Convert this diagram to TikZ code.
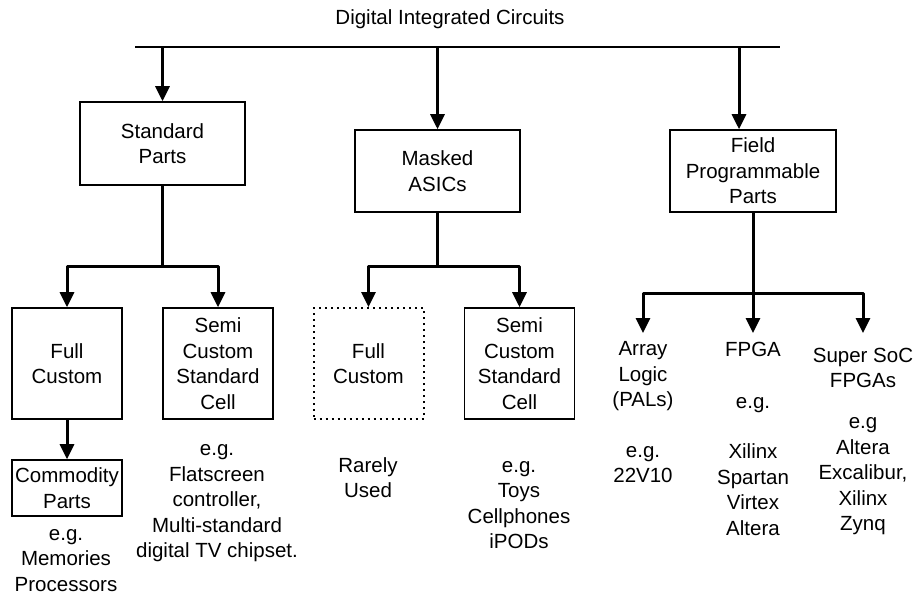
\documentclass[tikz,border=0pt]{standalone}
\usepackage{fontspec}
\setmainfont{Liberation Sans}
\usetikzlibrary{positioning, arrows.meta}

\begin{document}
\begin{tikzpicture}[
        x=1pt, y=-1pt,
        every node/.style={font=\fontsize{20.5}{25.5}\selectfont},
        box/.style={draw, line width=1.6pt, align=center, inner sep=2pt},
        cell/.style={box, minimum width=110pt, minimum height=111pt},
        leaf/.style={align=center, inner sep=2pt},
        conn/.style={line width=3pt, line join=round},
        arr/.style={conn, -{Triangle[width=14pt,length=15pt]}}
    ]
        \useasboundingbox (0,0) rectangle (916,595);

        % Nodes
        \node (title) at (450,19) {Digital Integrated Circuits};
        \coordinate (busL) at (135,47);
        \coordinate (busR) at (780,47);
        \coordinate (busF) at (739,47);

        \node[box, minimum width=165pt, minimum height=83pt] (std) at (162.5,143.5) {Standard\\Parts};
        \node[box, minimum width=165pt, minimum height=82pt] (mask) at (437.5,171) {Masked\\ASICs};
        \node[box, minimum width=166pt, minimum height=82pt] (fpp) at (753,171) {Field\\Programmable\\Parts};

        \node[cell] (fullA) at (67,363.5) {Full\\Custom};
        \node[cell] (semiA) at (218,363.5) {Semi\\Custom\\Standard\\Cell};
        \node[cell, line width=2pt, dash pattern=on 2pt off 4pt] (fullB) at (368.5,363.5) {Full\\Custom};
        \node[cell] (semiB) at (519.5,363.5) {Semi\\Custom\\Standard\\Cell};
        \node[box, minimum width=110pt, minimum height=56pt] (commod) at (67,488) {Commodity\\Parts};

        \node[leaf] (memo) at (66,560.5) {e.g.\\Memories\\Processors};
        \node[leaf] (flat) at (217,503.5) {e.g.\\Flatscreen\\controller,\\Multi-standard\\digital TV chipset.};
        \node[leaf] (rare) at (368,477.5) {Rarely\\Used};
        \node[leaf] (toys) at (519,505) {e.g.\\Toys\\Cellphones\\iPODs};

        \node[leaf, anchor=north, inner ysep=8.5pt] (array) at (643,333) {Array\\Logic\\(PALs)};
        \node[leaf, anchor=north, inner ysep=8.5pt] (fpga) at (753,333) {FPGA};
        \node[leaf, anchor=north, inner ysep=14.5pt] (soc) at (863,333) {Super SoC\\FPGAs};
        \node[leaf] (arrayex) at (643,464.5) {e.g.\\22V10};
        \node[leaf] (fpgaex) at (753,466.5) {e.g.\\[24.5pt]Xilinx\\Spartan\\Virtex\\Altera};
        \node[leaf] (socex) at (863,476.5) {e.g\\Altera\\Excalibur,\\Xilinx\\Zynq};

        % Arrows
        \draw[line width=1.2pt] (busL) -- (busR);
        \draw[arr] (std.north |- busL) -- (std);
        \draw[arr] (mask.north |- busL) -- (mask);
        \draw[arr] (busF) -- (busF |- fpp.north);

        \draw[conn] (std.south) -- ++(0,81) coordinate (stdbar);
        \draw[arr] (stdbar) -| (fullA);
        \draw[arr] (stdbar) -| (semiA);
        \draw[arr] (fullA) -- (commod);

        \draw[conn] (mask.south) -- ++(0,54) coordinate (maskbar);
        \draw[arr] (maskbar) -| (fullB);
        \draw[arr] (maskbar) -| (semiB);

        \draw[conn] (fpp.south) -- ++(0,81) coordinate (fpbar);
        \draw[arr] (fpbar) -| (array);
        \draw[arr] (fpbar) -- (fpga);
        \draw[arr] (fpbar) -| (soc);
    \end{tikzpicture}
\end{document}
